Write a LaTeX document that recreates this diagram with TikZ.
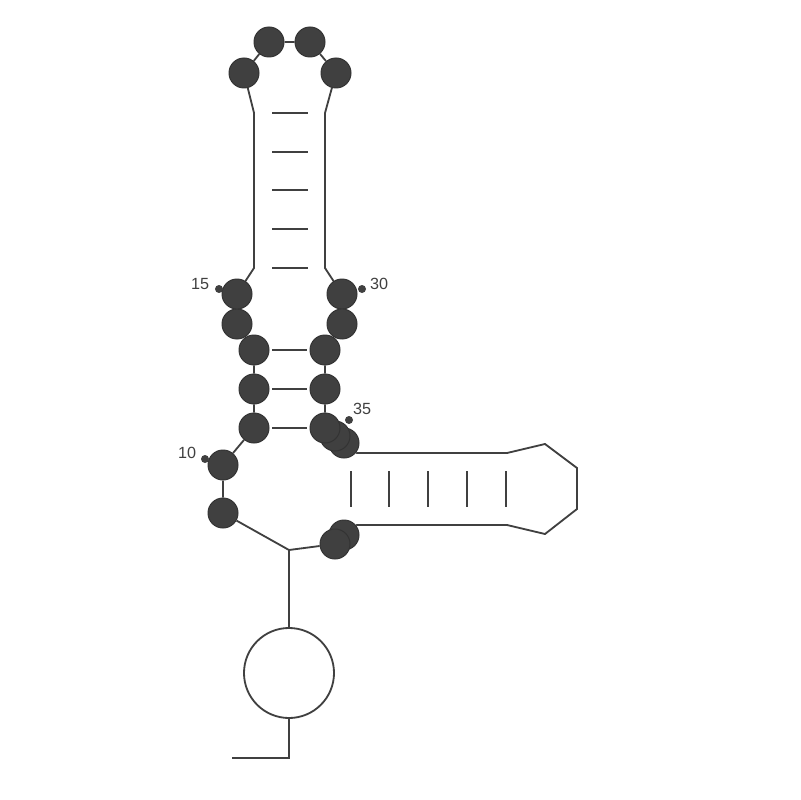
\documentclass[tikz,border=0pt]{standalone}
\usepackage{fontspec}
\setsansfont{Liberation Sans}
\usetikzlibrary{positioning}
\definecolor{ntgray}{RGB}{64,64,64}
\definecolor{bbgray}{RGB}{64,64,64}

\begin{document}
\begin{tikzpicture}[x=0.025cm,y=-0.025cm,
    nt/.style={circle, fill=ntgray, draw=black!80, line width=0.7pt, minimum size=0.75cm, inner sep=0pt},
    bb/.style={draw=bbgray, line width=1.3pt},
    lbl/.style={font=\sffamily\fontsize{11.5}{13}\selectfont, text=bbgray}]
    \useasboundingbox (0,0) rectangle (800,800);

    % backbone bends (no base drawn there)
    \coordinate (tail) at (232,758);
    \coordinate (tailup) at (289,758);
    \coordinate (junc) at (289,550);
    \coordinate (l16) at (254,268);
    \coordinate (l20) at (254,113);
    \coordinate (r25) at (325,113);
    \coordinate (r29) at (325,268);
    \coordinate (a1) at (357,453);
    \coordinate (a2) at (507,453);
    \coordinate (a3) at (545,444);
    \coordinate (a4) at (577,468);
    \coordinate (a5) at (577,509);
    \coordinate (a6) at (545,534);
    \coordinate (a7) at (507,525);
    \coordinate (a8) at (357,525);

    % big loop
    \node[circle, bb, minimum size=2.25cm, inner sep=0pt] (ring) at (289,673) {};

    % bases
    \node[nt] (n9)  at (223,513) {};
    \node[nt] (n10) at (223,465) {};
    \node[nt] (n11) at (254,428) {};
    \node[nt] (n12) at (254,389) {};
    \node[nt] (n13) at (254,350) {};
    \node[nt] (n14) at (237,324) {};
    \node[nt] (n15) at (237,294) {};
    \node[nt] (n21) at (244,73) {};
    \node[nt] (n22) at (269,42) {};
    \node[nt] (n23) at (310,42) {};
    \node[nt] (n24) at (336,73) {};
    \node[nt] (n30) at (342,294) {};
    \node[nt] (n31) at (342,324) {};
    \node[nt] (n32) at (325,350) {};
    \node[nt] (n33) at (325,389) {};
    \node[nt] (n36) at (344,443) {};
    \node[nt] (n35) at (335,436) {};
    \node[nt] (n34) at (325,428) {};
    \node[nt] (n49) at (344,535) {};
    \node[nt] (n50) at (335,544) {};

    % backbone
    \draw[bb] (tail) -- (tailup) -- (ring);
    \draw[bb] (ring) -- (junc) -- (n9) -- (n10) -- (n11) -- (n12) -- (n13) -- (n14) -- (n15) -- (l16) -- (l20) -- (n21) -- (n22) -- (n23) -- (n24) -- (r25) -- (r29) -- (n30) -- (n31) -- (n32) -- (n33) -- (n34);
    \draw[bb] (n36) -- (a1) -- (a2) -- (a3) -- (a4) -- (a5) -- (a6) -- (a7) -- (a8) -- (n49);
    \draw[bb] (n50) -- (junc);

    % base pairs
    \foreach \y in {113,152,190,229,268}
        \draw[bb] (272,\y) -- (308,\y);
    \foreach \a/\b in {n13/n32,n12/n33,n11/n34}
        \draw[bb, shorten <=2pt, shorten >=2pt] (\a) -- (\b);
    \foreach \x in {351,389,428,467,506}
        \draw[bb] (\x,471) -- (\x,507);

    % numbering
    \foreach \p in {(219,289),(362,289),(349,420),(205,459)}
        \fill[bbgray] \p circle (4);
    \node[lbl] (t15) at (200,284) {15};
    \node[lbl] (t30) at (379,284) {30};
    \node[lbl] (t35) at (362,409) {35};
    \node[lbl] (t10) at (187,453) {10};
\end{tikzpicture}
\end{document}
